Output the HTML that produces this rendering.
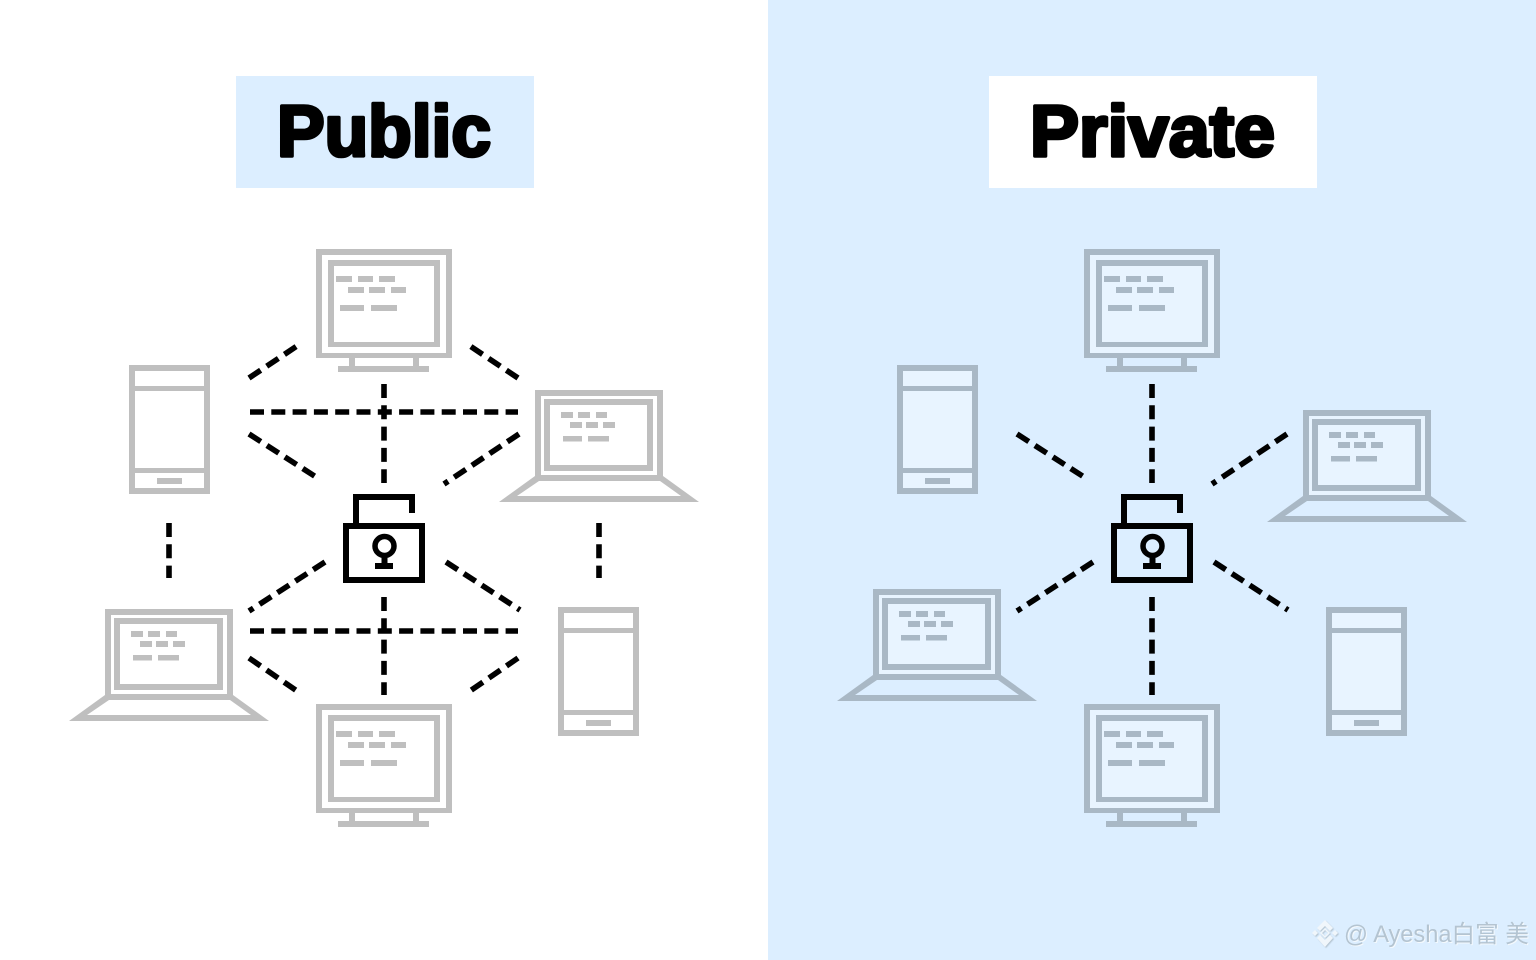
<!DOCTYPE html>
<html><head><meta charset="utf-8"><style>
html,body{margin:0;padding:0;background:#fff;width:1536px;height:960px;overflow:hidden}
svg{display:block}
.t{font-family:"Liberation Sans",sans-serif;font-weight:700;font-size:72px;fill:#000;stroke:#000;stroke-width:3.6px;stroke-linejoin:round}
.d{stroke:#000;stroke-width:5.6;stroke-dasharray:14 7.3;fill:none}
.w{font-family:"Liberation Sans","Noto Sans CJK SC",sans-serif;font-size:23.6px;fill:#b4c4d1;filter:drop-shadow(1px 1px 0 #f4f9fd)}
</style></head><body>
<svg width="1536" height="960" viewBox="0 0 1536 960" xmlns="http://www.w3.org/2000/svg">
<defs>
<g id="mon">
<path fill-rule="evenodd" fill="currentColor" d="M316 249H452V358H316ZM322 255V352.500H446V255Z"/>
<path fill="var(--f)" d="M322 255H446V353H322Z"/>
<path fill-rule="evenodd" fill="currentColor" d="M328 260H440V347H328ZM334 266V342H434V266Z"/>
<path fill="currentColor" d="M349 358h6v8h-6ZM413 358h6v8h-6ZM338 366H429V372H338ZM336 276h16v6h-16ZM358 276h15v6h-15ZM379 276h16v6h-16ZM348 287h16v6h-16ZM369 287h16v6h-16ZM391 287h15v6h-15ZM340 305h24v6h-24ZM371 305h26v6h-26Z"/>
</g>
<g id="lap">
<path fill-rule="evenodd" fill="currentColor" d="M535 390H663V480H535ZM541 396V474.500H657V396Z"/>
<path fill="var(--f)" d="M541 396H657V475H541Z"/>
<path fill-rule="evenodd" fill="currentColor" d="M544 399H653V471H544ZM550 405V465H647V405Z"/>
<path fill-rule="evenodd" fill="currentColor" d="M535 476H663L699 502H499ZM539 481 517 496H681L660 481Z"/>
<path fill="currentColor" d="M561 412h12v6h-12ZM578 412h12v6h-12ZM596 412h11v6h-11ZM570 422h12v6h-12ZM586 422h12v6h-12ZM603 422h12v6h-12ZM563 436h19v5.500h-19ZM588 436h21v5.500h-21Z"/>
</g>
<g id="pho">
<path fill="var(--f)" d="M129 365H210V494H129Z"/>
<path fill-rule="evenodd" fill="currentColor" d="M129 365H210V494H129ZM135 371V386H204V371ZM135 391V468H204V391ZM135 473V488H204V473Z"/>
<path fill="currentColor" d="M157 478h25v6h-25Z"/>
</g>
<g id="lock" fill="#000">
<path fill-rule="evenodd" d="M343 523H425V583H343ZM349 529V577H419V529Z"/>
<path d="M353 523V494H415V513H409V500H359V523Z"/>
<circle cx="384.500" cy="546" r="9.500" fill="none" stroke="#000" stroke-width="5.500"/>
<path d="M381.500 556h6v8h-6ZM375 563H393V569H375Z"/>
</g>
</defs>

<rect x="768" width="768" height="960" fill="#dceeff"/>
<rect x="236" y="76" width="298" height="112" fill="#dceeff"/>
<rect x="989" y="76" width="328" height="112" fill="#fff"/>
<text class="t" x="277" y="156" textLength="214" lengthAdjust="spacingAndGlyphs">Public</text>
<text class="t" x="1030" y="156" textLength="245" lengthAdjust="spacingAndGlyphs">Private</text>

<!-- Public -->
<g style="color:#bfbfbf;--f:#fff">
<use href="#mon"/>
<use href="#mon" y="455"/>
<use href="#lap"/>
<use href="#lap" x="-430" y="219"/>
<use href="#pho"/>
<use href="#pho" x="429" y="242"/>
</g>
<use href="#lock"/>
<g class="d">
<path class="d" d="M249 378 297 346"/>
<path class="d" d="M518 378 470 346"/>
<path class="d" d="M250 412H518"/>
<path class="d" d="M384 384V483"/>
<path class="d" d="M249 434 316 477"/>
<path class="d" d="M519 434 444 484"/>
<path class="d" d="M169 523V578"/>
<path class="d" d="M599 523V578"/>
<path class="d" d="M325 562 249 611"/>
<path class="d" d="M446 562 520 610"/>
<path class="d" d="M250 631H518"/>
<path class="d" d="M384 597V695"/>
<path class="d" d="M249 658 297 691"/>
<path class="d" d="M518 658 470 691"/>
</g>

<!-- Private -->
<g style="color:#a9b8c5;--f:#e8f4ff">
<use href="#mon" x="768"/>
<use href="#mon" x="768" y="455"/>
<use href="#lap" x="768" y="20"/>
<use href="#lap" x="338" y="199"/>
<use href="#pho" x="768"/>
<use href="#pho" x="1197" y="242"/>
</g>
<use href="#lock" x="768"/>
<g class="d">
<path class="d" d="M1152 384V483"/>
<path class="d" d="M1017 434 1084 477"/>
<path class="d" d="M1287 434 1212 484"/>
<path class="d" d="M1093 562 1017 611"/>
<path class="d" d="M1214 562 1288 610"/>
<path class="d" d="M1152 597V695"/>
</g>

<!-- watermark -->
<g style="filter:drop-shadow(1px 1px 0.500px #b4c4d1)">
<path d="M1317 928 1325 920 1333 928 1330 931 1325 926 1320 931Z" fill="#f0f6fb"/>
<path d="M1317 938 1325 947 1333 938 1330 935 1325 940 1320 935Z" fill="#f0f6fb"/>
<path d="M1312 933 1315 930 1318 933 1315 936ZM1332 933 1335 930 1338 933 1335 936Z" fill="#f0f6fb"/>
<path d="M1325 929 1329 933 1325 937 1321 933Z" fill="none" stroke="#f0f6fb" stroke-width="1.500"/>
</g>
<text class="w" x="1344" y="942">@ Ayesha白富 美</text>
</svg>
</body></html>
